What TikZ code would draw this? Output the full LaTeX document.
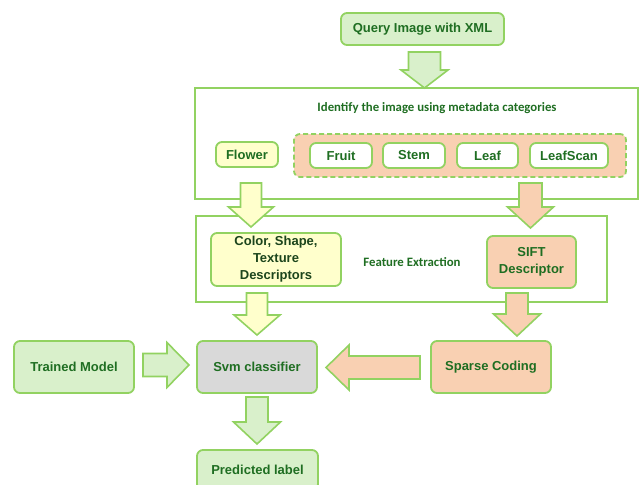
\documentclass[tikz,border=0pt]{standalone}
\usepackage{fontspec}
\setmainfont{Liberation Sans}
\newfontfamily\calfont{Carlito}
\definecolor{bgreen}{HTML}{92D261}
\definecolor{lgreen}{HTML}{D9F0CB}
\definecolor{lyellow}{HTML}{FFFFCC}
\definecolor{peach}{HTML}{F9D0B2}
\definecolor{lgrey}{HTML}{D9D9D9}
\definecolor{tgreen}{HTML}{1F6E22}
\definecolor{tdark}{HTML}{1C451C}
\newcommand\dnarrow[7]{%
  \draw[blk,fill=#7] (#1-#5,#2) -- (#1+#5,#2) -- (#1+#5,#3) -- (#1+#6,#3) -- (#1,#4) -- (#1-#6,#3) -- (#1-#5,#3) -- cycle;}
\newcommand\hzarrow[7]{%
  \draw[blk,fill=#7] (#2,#1-#5) -- (#3,#1-#5) -- (#3,#1-#6) -- (#4,#1) -- (#3,#1+#6) -- (#3,#1+#5) -- (#2,#1+#5) -- cycle;}
\begin{document}
\begin{tikzpicture}[x=1pt,y=-1pt,
  box/.style={draw=bgreen,line width=1.8pt,rounded corners=6pt,inner sep=0pt,align=center,
    font=\fontsize{13}{17}\selectfont\bfseries,text=tgreen},
  frame/.style={draw=bgreen,line width=1.8pt,inner sep=0pt},
  blk/.style={draw=bgreen,line width=1.6pt,line join=miter},
  lab/.style={font=\calfont\fontsize{12.8}{14}\selectfont\bfseries,text=tgreen,inner sep=0pt}]
\useasboundingbox (0,0) rectangle (639,484);
\clip (0,0) rectangle (639,484);
% query
\node[box,fill=lgreen,minimum width=163pt,minimum height=32pt] (query) at (422.5,29) {Query Image with XML};
\dnarrow{424.5}{52}{70}{88}{16}{23.5}{lgreen}
% frame 1
\node[frame,minimum width=443pt,minimum height=111pt] (frame1) at (416.5,143.5) {};
\node[lab] (identify) at (437,108) {Identify the image using metadata categories};
\node[box,fill=lyellow,minimum width=62pt,minimum height=25pt] (flower) at (247,154.5) {Flower};
\node[box,dashed,dash pattern=on 5pt off 3pt,fill=peach,minimum width=332pt,minimum height=43pt] (cats) at (460,155.5) {};
\node[box,fill=white,minimum width=62pt,minimum height=25pt] (fruit) at (341,155.5) {Fruit};
\node[box,fill=white,minimum width=62pt,minimum height=25pt] (stem) at (414,155.5) {Stem};
\node[box,fill=white,minimum width=61pt,minimum height=25pt] (leaf) at (487.5,155.5) {Leaf};
\node[box,fill=white,minimum width=78pt,minimum height=25pt] (leafscan) at (569,155.5) {LeafScan};
% frame 2
\node[frame,minimum width=411pt,minimum height=86pt] (frame2) at (401.5,259) {};
\dnarrow{251}{183}{207}{227}{10.5}{22.5}{lyellow}
\dnarrow{530.5}{183}{207}{228}{11.5}{23}{peach}
\node[box,fill=lyellow,text=tdark,minimum width=130pt,minimum height=53pt] (color) at (276,259.5) {Color, Shape,\\Texture\\Descriptors};
\node[lab] (feat) at (412,262) {Feature Extraction};
\node[box,fill=peach,minimum width=89pt,minimum height=52pt] (sift) at (531.5,262) {SIFT\\Descriptor};
% bottom row
\dnarrow{257}{293}{315}{335}{10.5}{23}{lyellow}
\dnarrow{517}{293}{314}{336}{11}{23.5}{peach}
\node[box,fill=lgreen,minimum width=120pt,minimum height=52pt] (trained) at (74,367) {Trained Model};
\node[box,fill=lgrey,minimum width=120pt,minimum height=52pt] (svm) at (257,367) {Svm classifier};
\node[box,fill=peach,minimum width=120pt,minimum height=52pt] (sparse) at (491,367) {Sparse Coding};
\hzarrow{365}{143}{167}{189}{11.5}{22.5}{lgreen}
\hzarrow{367.5}{420}{349}{326}{11.5}{22.5}{peach}
\dnarrow{257}{397}{422}{444}{11}{23.5}{lgreen}
\node[box,fill=lgreen,minimum width=121pt,minimum height=40pt] (pred) at (257.5,470) {Predicted label};
\end{tikzpicture}
\end{document}
